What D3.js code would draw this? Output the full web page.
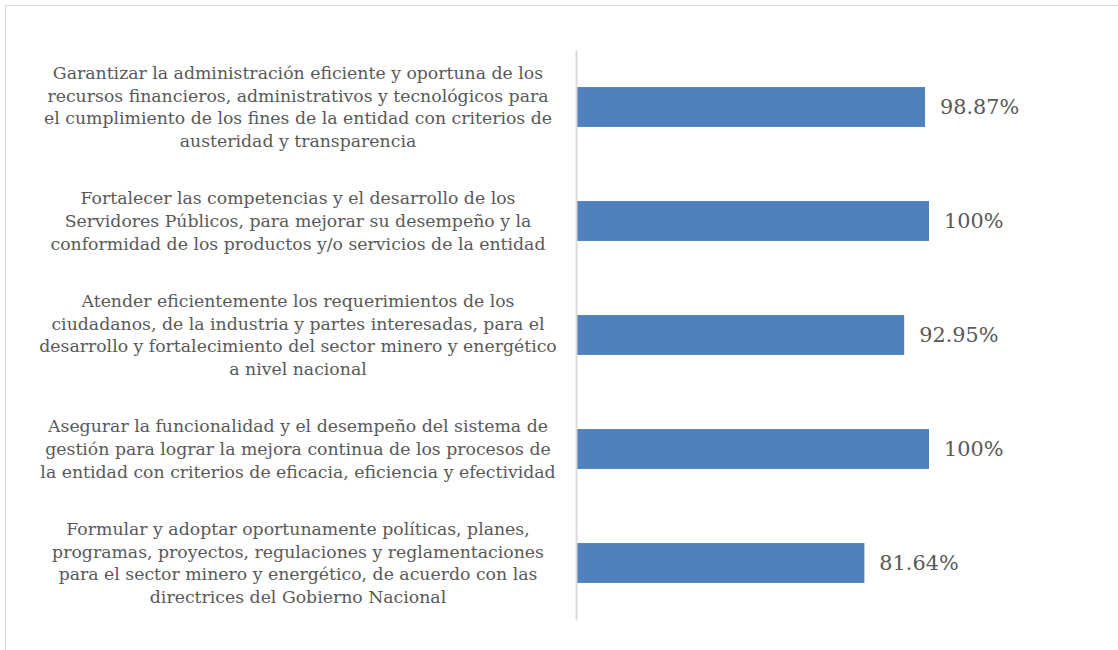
<!DOCTYPE html>
<html><head><meta charset="utf-8">
<script src="https://cdn.jsdelivr.net/npm/d3@7"></script>
<style>
html,body{margin:0;padding:0;background:#fff;}
svg{display:block;}
</style></head>
<body><svg id="c" width="1118" height="650"></svg>
<script>
const categories = [
  ["Garantizar la administración eficiente y oportuna de los","recursos financieros, administrativos y tecnológicos para","el cumplimiento de los fines de la entidad con criterios de","austeridad y transparencia"],
  ["Fortalecer las competencias y el desarrollo de los","Servidores Públicos, para mejorar su desempeño y la","conformidad de los productos y/o servicios de la entidad"],
  ["Atender eficientemente los requerimientos de los","ciudadanos, de la industria y partes interesadas, para el","desarrollo y fortalecimiento del sector minero y energético","a nivel nacional"],
  ["Asegurar la funcionalidad y el desempeño del sistema de","gestión para lograr la mejora continua de los procesos de","la entidad con criterios de eficacia, eficiencia y efectividad"],
  ["Formular y adoptar oportunamente políticas, planes,","programas, proyectos, regulaciones y reglamentaciones","para el sector minero y energético, de acuerdo con las","directrices del Gobierno Nacional"]
];
const values = [98.87, 100, 92.95, 100, 81.64];
const valueLabels = ["98.87%", "100%", "92.95%", "100%", "81.64%"];

const svg = d3.select("#c");
const font = "'DejaVu Serif', serif";
const textColor = "#595959";

// chart border
svg.append("rect").attr("x",5.5).attr("y",5.5).attr("width",1130).attr("height",660)
  .attr("fill","none").attr("stroke","#d9d9d9").attr("stroke-width",1);

const x = d3.scaleLinear().domain([0,100]).range([577,929]);
const y = d3.scaleBand().domain(d3.range(categories.length)).range([50,620]).paddingInner(0.65).paddingOuter(0.325);

svg.selectAll("rect.bar").data(values).join("rect").attr("class","bar")
  .attr("x",x(0)).attr("y",(d,i)=>y(i)).attr("width",d=>x(d)-x(0)).attr("height",y.bandwidth())
  .attr("fill","#4f81bd");

// axis line
const yAxis = d3.axisLeft(y).tickSize(0).tickFormat("");
const ax = svg.append("g").attr("transform",`translate(${576},0)`).call(yAxis);
ax.select(".domain").attr("stroke","#d9d9d9").attr("stroke-width",2);

// category labels
const lh = 22.6;
const lab = svg.append("g");
categories.forEach((lines,i)=>{
  const cy = y(i)+y.bandwidth()/2;
  const t = lab.append("text").attr("x",298).attr("text-anchor","middle")
    .attr("font-family",font).attr("font-size",17.3).attr("fill",textColor);
  lines.forEach((ln,j)=>{
    t.append("tspan").attr("x",298).attr("y",cy + (j-(lines.length-1)/2)*lh).attr("dy","0.35em").text(ln);
  });
});

// value labels
svg.selectAll("text.val").data(values).join("text").attr("class","val")
  .attr("x",d=>x(d)+15).attr("y",(d,i)=>y(i)+y.bandwidth()/2).attr("dy","0.35em")
  .attr("font-family",font).attr("font-size",20.8).attr("fill",textColor)
  .text((d,i)=>valueLabels[i]);
</script></body></html>
